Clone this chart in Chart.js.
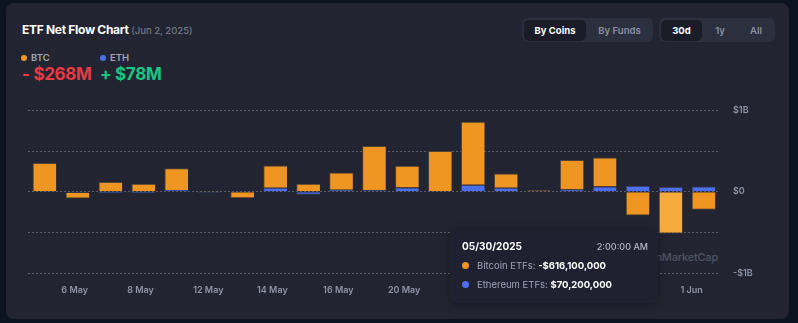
<!DOCTYPE html>
<html lang="en">
<head>
  <meta charset="UTF-8">
  <title>ETF Net Flow Chart</title>
  <style>
    body { margin: 0; width: 798px; height: 323px; background: #0d1421; font-family: Inter, "Noto Sans", sans-serif; position: relative; overflow: hidden; }
    .abs { position: absolute; }
    .card { left: 6px; top: 3px; width: 783px; height: 316px; background: #222531; border-radius: 8px; }
    .title { left: 22px; top: 22px; font-size: 12px; font-weight: 700; color: #fff; letter-spacing: -0.3px; white-space: nowrap; }
    .title span { font-size: 9.5px; font-weight: 500; color: #6f7588; letter-spacing: 0; }
    .leg { top: 52px; font-size: 9.5px; font-weight: 600; color: #a1a7bb; display: flex; align-items: center; }
    .leg i { width: 6px; height: 6px; border-radius: 50%; margin-right: 4px; display: inline-block; }
    .val { top: 64px; font-size: 17px; font-weight: 700; letter-spacing: -0.3px; white-space: nowrap; }
    .grp { top: 18px; height: 24px; background: #2c2f3e; border-radius: 6px; }
    .btn { top: 2px; height: 21px; line-height: 21px; font-size: 9.5px; font-weight: 600; color: #8a8fa2; text-align: center; border-radius: 5px; }
    .btn.on { background: #1a1c28; color: #fff; font-weight: 700; }
    .wm { left: 560px; top: 250px; width: 158px; text-align: right; font-size: 11px; font-weight: 500; color: #4f5262; letter-spacing: -0.2px; }
    .tip { left: 450px; top: 229px; width: 208px; height: 74px; background: #1f2130; border-radius: 6px; box-shadow: 0 2px 8px rgba(0,0,0,0.35); }
    .tip .d { left: 12px; top: 11px; font-size: 10px; font-weight: 700; color: #fff; }
    .tip .t { right: 10px; top: 12px; font-size: 9px; font-weight: 500; color: #b4b8c5; }
    .tip .r { left: 12px; font-size: 9.5px; color: #9ea3b5; display: flex; align-items: center; white-space: nowrap; }
    .tip .r i { width: 7px; height: 7px; border-radius: 50%; margin-right: 8px; display: inline-block; }
    .tip .r b { color: #fff; }
    #wrap { left: 20px; top: 92px; width: 770px; height: 214px; }
  </style>
</head>
<body>
  <div class="abs card"></div>
  <div class="abs title">ETF Net Flow Chart <span>(Jun 2, 2025)</span></div>
  <div class="abs leg" style="left:21px"><i style="background:#ef9521"></i>BTC</div>
  <div class="abs leg" style="left:100px"><i style="background:#4c6ef0"></i>ETH</div>
  <div class="abs val" id="btcVal" style="left:22px; color:#ea3943"></div>
  <div class="abs val" id="ethVal" style="left:100px; color:#16c784"></div>

  <div class="abs grp" style="left:522px; width:131px">
    <div class="abs btn on" style="left:2px; width:62px">By Coins</div>
    <div class="abs btn" style="left:66px; width:63px">By Funds</div>
  </div>
  <div class="abs grp" style="left:659px; width:116px">
    <div class="abs btn on" style="left:2px; width:41px">30d</div>
    <div class="abs btn" style="left:46px; width:30px">1y</div>
    <div class="abs btn" style="left:80px; width:34px">All</div>
  </div>

  <div class="abs wm">CoinMarketCap</div>
  <div class="abs" id="wrap"><canvas id="myChart"></canvas></div>

  <div class="abs tip">
    <div class="abs d" id="tipDate"></div>
    <div class="abs t">2:00:00 AM</div>
    <div class="abs r" style="top:31px"><i style="background:#ef9521"></i>Bitcoin ETFs:&nbsp;<b id="tipBtc"></b></div>
    <div class="abs r" style="top:50px"><i style="background:#4c6ef0"></i>Ethereum ETFs:&nbsp;<b id="tipEth"></b></div>
  </div>

  <script src="https://cdn.jsdelivr.net/npm/chart.js"></script>
  <script>
    // daily net flows, millions of USD (bars dated 02:00 of each day)
    const days = ['2025-05-05', '2025-05-06', '2025-05-07', '2025-05-08', '2025-05-09',
                  '2025-05-12', '2025-05-13', '2025-05-14', '2025-05-15', '2025-05-16',
                  '2025-05-19', '2025-05-20', '2025-05-21', '2025-05-22', '2025-05-23',
                  '2025-05-26', '2025-05-27', '2025-05-28', '2025-05-29', '2025-05-30',
                  '2025-06-02'];
    const btc = [425, -86, 142, 117, 321, 14, -96, 325, 117, 253, 656, 320, 600, 930, 211,
                 20, 433, 427, -350, -616.1, -267.5];
    const eth = [0, -15, -20, -20, 25, -14, 15, 60, -44, 30, 20, 63, 0, 102, 58,
                 0, 34, 77, 88, 70.2, 78];
    const tickDays = ['2025-05-06', '2025-05-08', '2025-05-12', '2025-05-14', '2025-05-16',
                      '2025-05-20', '2025-05-22', '2025-05-26', '2025-05-28', '2025-06-01'];
    const hoverIdx = 19;

    const months = ['Jan', 'Feb', 'Mar', 'Apr', 'May', 'Jun', 'Jul', 'Aug', 'Sep', 'Oct', 'Nov', 'Dec'];
    const ts = (d, h) => Date.parse(d + 'T00:00:00Z') + h * 3600000;

    // position of a midnight tick between the (evenly spaced) bars
    const tickPos = d => {
      const t = ts(d, 0);
      for (let i = 0; i < days.length - 1; i++) {
        const a = ts(days[i], 2), b = ts(days[i + 1], 2);
        if (t >= a && t < b) return i + (t - a) / (b - a);
      }
      return days.length - 1;
    };
    const tickLabel = d => { const p = d.split('-'); return (+p[2]) + ' ' + months[+p[1] - 1]; };

    const money = v => (v < 0 ? '-' : '') + '$' + Math.round(Math.abs(v) * 1e6).toLocaleString('en-US');
    const last = days.length - 1;
    document.getElementById('btcVal').textContent = (btc[last] < 0 ? '- ' : '+ ') + '$' + Math.round(Math.abs(btc[last])) + 'M';
    document.getElementById('ethVal').textContent = (eth[last] < 0 ? '- ' : '+ ') + '$' + Math.round(Math.abs(eth[last])) + 'M';
    const hp = days[hoverIdx].split('-');
    document.getElementById('tipDate').textContent = hp[1] + '/' + hp[2] + '/' + hp[0];
    document.getElementById('tipBtc').textContent = money(btc[hoverIdx]);
    document.getElementById('tipEth').textContent = money(eth[hoverIdx]);

    const edge = ctx => (ctx.raw && ctx.raw.y < 0) ? { left: 1, bottom: 1 } : { left: 1, top: 1 };

    const ctx = document.getElementById('myChart');
    new Chart(ctx, {
      type: 'bar',
      data: {
        datasets: [{
          label: 'Ethereum ETFs',
          data: eth.map((v, i) => ({ x: i, y: v })),
          backgroundColor: '#4c6ef0',
          borderColor: '#3d3f52',
          borderWidth: edge,
          borderSkipped: false
        }, {
          label: 'Bitcoin ETFs',
          data: btc.map((v, i) => ({ x: i, y: v })),
          backgroundColor: c => c.dataIndex === hoverIdx ? '#f7ab3b' : '#ef9521',
          borderColor: '#4d4337',
          borderWidth: edge,
          borderSkipped: false
        }]
      },
      options: {
        responsive: true,
        maintainAspectRatio: false,
        animation: false,
        events: [],
        layout: { padding: { left: 8, top: 1, right: 20, bottom: 0 } },
        plugins: { legend: { display: false }, tooltip: { enabled: false } },
        scales: {
          x: {
            type: 'linear',
            offset: false,
            stacked: true,
            min: -0.5,
            max: days.length - 0.5,
            grid: { display: false, offset: false },
            border: { display: false },
            afterBuildTicks: s => { s.ticks = tickDays.map(d => ({ value: tickPos(d) })); },
            afterFit: s => { s.height = 33; },
            ticks: {
              autoSkip: false,
              maxRotation: 0,
              padding: 4,
              color: '#8f94a6',
              font: { family: 'Inter', size: 9, weight: '600' },
              callback: (v, i) => tickLabel(tickDays[i])
            }
          },
          y: {
            position: 'right',
            stacked: true,
            min: -1200,
            max: 1200,
            grid: { color: '#5a5d6e', drawTicks: false },
            border: { display: false, dash: [2, 2] },
            afterFit: s => { s.width = 50; },
            ticks: {
              stepSize: 600,
              padding: 13,
              color: '#8f94a6',
              font: { family: 'Inter', size: 9, weight: '600' },
              callback: v => v === 0 ? '$0' : (Math.abs(v) >= 1000 ? (v < 0 ? '-' : '') + '$' + Math.round(Math.abs(v) / 1000) + 'B' : '')
            }
          }
        }
      }
    });
  </script>
</body>
</html>
